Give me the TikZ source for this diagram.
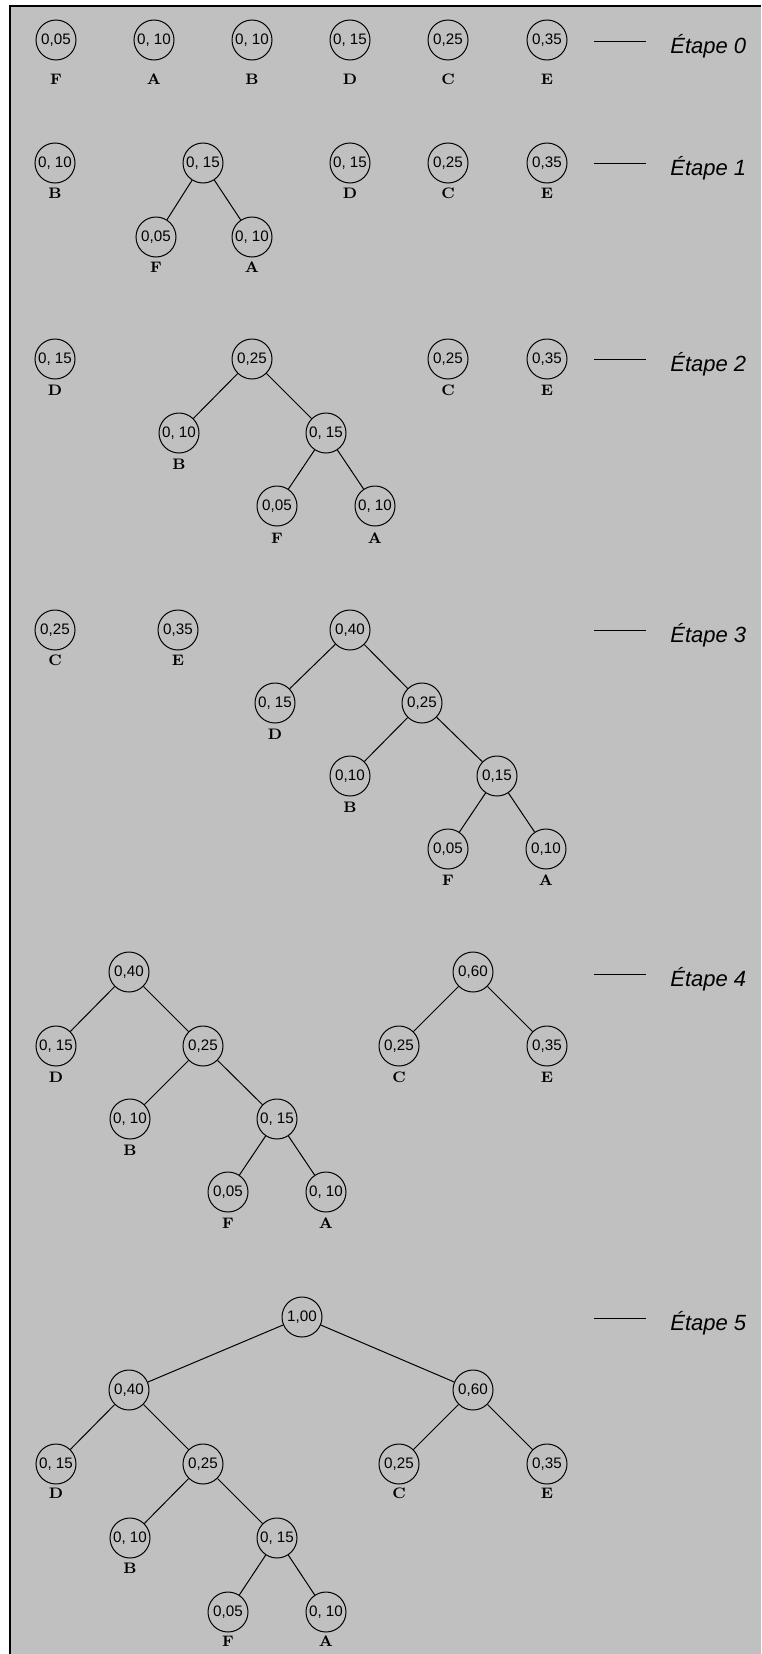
\documentclass[tikz,border=0pt]{standalone}
\usepackage{fontspec}
\setsansfont{Liberation Sans}
\definecolor{bg}{HTML}{C0C0C0}
\tikzset{
  hc/.style={circle, draw=black, line width=0.5pt, minimum size=20pt, inner sep=0pt,
             font=\sffamily\fontsize{7.6}{8}\selectfont},
  hlab/.style={inner sep=0pt, font=\fontsize{7.6}{8}\selectfont\bfseries},
  hedge/.style={line width=0.5pt},
  etape/.style={anchor=base west, inner sep=0pt, font=\sffamily\itshape\fontsize{11}{13}\selectfont},
}
\begin{document}
\begin{tikzpicture}[x=0.5pt,y=-0.5pt]
\useasboundingbox (0,0) rectangle (761,1654);
\fill[white] (0,0) rectangle (761,1654);
\fill[bg] (10,6) rectangle (761,1654);
\draw[line width=1pt] (10,1654) -- (10,6) -- (761,6);

% ---------- Etape 0 ----------
\node[hc] (a1) at (56,40) {0,05};  \node[hlab] (a1l) at (56,79) {F};
\node[hc] (a2) at (154,40) {0, 10}; \node[hlab] (a2l) at (154,79) {A};
\node[hc] (a3) at (252,40) {0, 10}; \node[hlab] (a3l) at (252,79) {B};
\node[hc] (a4) at (350,40) {0, 15}; \node[hlab] (a4l) at (350,79) {D};
\node[hc] (a5) at (448,40) {0,25};  \node[hlab] (a5l) at (448,79) {C};
\node[hc] (a6) at (547,40) {0,35};  \node[hlab] (a6l) at (547,79) {E};
\coordinate (s0a) at (594,41); \coordinate (s0b) at (646,41);
\draw[hedge] (s0a) -- (s0b);
\node[etape] (t0) at (670,53) {Étape 0};

% ---------- Etape 1 ----------
\node[hc] (b1) at (55,163) {0, 10};  \node[hlab] (b1l) at (55,193) {B};
\node[hc] (b2) at (203,163) {0, 15};
\node[hc] (b3) at (156,237) {0,05};  \node[hlab] (b3l) at (156,267) {F};
\node[hc] (b4) at (252,237) {0, 10}; \node[hlab] (b4l) at (252,267) {A};
\node[hc] (b5) at (350,163) {0, 15}; \node[hlab] (b5l) at (350,193) {D};
\node[hc] (b6) at (448,163) {0,25};  \node[hlab] (b6l) at (448,193) {C};
\node[hc] (b7) at (547,163) {0,35};  \node[hlab] (b7l) at (547,193) {E};
\draw[hedge] (b2) -- (b3);
\draw[hedge] (b2) -- (b4);
\coordinate (s1a) at (594,163); \coordinate (s1b) at (646,163);
\draw[hedge] (s1a) -- (s1b);
\node[etape] (t1) at (670,175) {Étape 1};

% ---------- Etape 2 ----------
\node[hc] (c1) at (55,359) {0, 15};  \node[hlab] (c1l) at (55,390) {D};
\node[hc] (c2) at (252,359) {0,25};
\node[hc] (c3) at (179,433) {0, 10}; \node[hlab] (c3l) at (179,464) {B};
\node[hc] (c4) at (326,433) {0, 15};
\node[hc] (c5) at (277,506) {0,05};  \node[hlab] (c5l) at (277,538) {F};
\node[hc] (c6) at (375,506) {0, 10}; \node[hlab] (c6l) at (375,538) {A};
\node[hc] (c7) at (448,359) {0,25};  \node[hlab] (c7l) at (448,390) {C};
\node[hc] (c8) at (547,359) {0,35};  \node[hlab] (c8l) at (547,390) {E};
\draw[hedge] (c2) -- (c3);
\draw[hedge] (c2) -- (c4);
\draw[hedge] (c4) -- (c5);
\draw[hedge] (c4) -- (c6);
\coordinate (s2a) at (594,359); \coordinate (s2b) at (646,359);
\draw[hedge] (s2a) -- (s2b);
\node[etape] (t2) at (670,371) {Étape 2};

% ---------- Etape 3 ----------
\node[hc] (d1) at (55,630) {0,25};   \node[hlab] (d1l) at (55,660) {C};
\node[hc] (d2) at (178,630) {0,35};  \node[hlab] (d2l) at (178,660) {E};
\node[hc] (d3) at (350,630) {0,40};
\node[hc] (d4) at (275,703) {0, 15}; \node[hlab] (d4l) at (275,734) {D};
\node[hc] (d5) at (422,703) {0,25};
\node[hc] (d6) at (350,776) {0,10};  \node[hlab] (d6l) at (350,807) {B};
\node[hc] (d7) at (497,776) {0,15};
\node[hc] (d8) at (448,849) {0,05};  \node[hlab] (d8l) at (448,880) {F};
\node[hc] (d9) at (546,849) {0,10};  \node[hlab] (d9l) at (546,880) {A};
\draw[hedge] (d3) -- (d4);
\draw[hedge] (d3) -- (d5);
\draw[hedge] (d5) -- (d6);
\draw[hedge] (d5) -- (d7);
\draw[hedge] (d7) -- (d8);
\draw[hedge] (d7) -- (d9);
\coordinate (s3a) at (594,630); \coordinate (s3b) at (646,630);
\draw[hedge] (s3a) -- (s3b);
\node[etape] (t3) at (670,642) {Étape 3};

% ---------- Etape 4 ----------
\node[hc] (e1) at (129,972) {0,40};
\node[hc] (e2) at (56,1046) {0, 15};  \node[hlab] (e2l) at (56,1077) {D};
\node[hc] (e3) at (203,1046) {0,25};
\node[hc] (e4) at (130,1119) {0, 10}; \node[hlab] (e4l) at (130,1150) {B};
\node[hc] (e5) at (277,1119) {0, 15};
\node[hc] (e6) at (228,1192) {0,05};  \node[hlab] (e6l) at (228,1223) {F};
\node[hc] (e7) at (326,1192) {0, 10}; \node[hlab] (e7l) at (326,1223) {A};
\node[hc] (e8) at (473,972) {0,60};
\node[hc] (e9) at (399,1046) {0,25};  \node[hlab] (e9l) at (399,1077) {C};
\node[hc] (e10) at (547,1046) {0,35}; \node[hlab] (e10l) at (547,1077) {E};
\draw[hedge] (e1) -- (e2);
\draw[hedge] (e1) -- (e3);
\draw[hedge] (e3) -- (e4);
\draw[hedge] (e3) -- (e5);
\draw[hedge] (e5) -- (e6);
\draw[hedge] (e5) -- (e7);
\draw[hedge] (e8) -- (e9);
\draw[hedge] (e8) -- (e10);
\coordinate (s4a) at (594,974); \coordinate (s4b) at (646,974);
\draw[hedge] (s4a) -- (s4b);
\node[etape] (t4) at (670,986) {Étape 4};

% ---------- Etape 5 ----------
\node[hc] (f0) at (302,1317) {1,00};
\node[hc] (f1) at (129,1390) {0,40};
\node[hc] (f8) at (473,1390) {0,60};
\node[hc] (f2) at (56,1464) {0, 15};  \node[hlab] (f2l) at (56,1493) {D};
\node[hc] (f3) at (203,1464) {0,25};
\node[hc] (f9) at (399,1464) {0,25};  \node[hlab] (f9l) at (399,1493) {C};
\node[hc] (f10) at (547,1464) {0,35}; \node[hlab] (f10l) at (547,1493) {E};
\node[hc] (f4) at (130,1538) {0, 10}; \node[hlab] (f4l) at (130,1568) {B};
\node[hc] (f5) at (277,1538) {0, 15};
\node[hc] (f6) at (228,1612) {0,05};  \node[hlab] (f6l) at (228,1641) {F};
\node[hc] (f7) at (326,1612) {0, 10}; \node[hlab] (f7l) at (326,1641) {A};
\draw[hedge] (f0) -- (f1);
\draw[hedge] (f0) -- (f8);
\draw[hedge] (f1) -- (f2);
\draw[hedge] (f1) -- (f3);
\draw[hedge] (f3) -- (f4);
\draw[hedge] (f3) -- (f5);
\draw[hedge] (f5) -- (f6);
\draw[hedge] (f5) -- (f7);
\draw[hedge] (f8) -- (f9);
\draw[hedge] (f8) -- (f10);
\coordinate (s5a) at (594,1318); \coordinate (s5b) at (646,1318);
\draw[hedge] (s5a) -- (s5b);
\node[etape] (t5) at (670,1330) {Étape 5};
\end{tikzpicture}
\end{document}
